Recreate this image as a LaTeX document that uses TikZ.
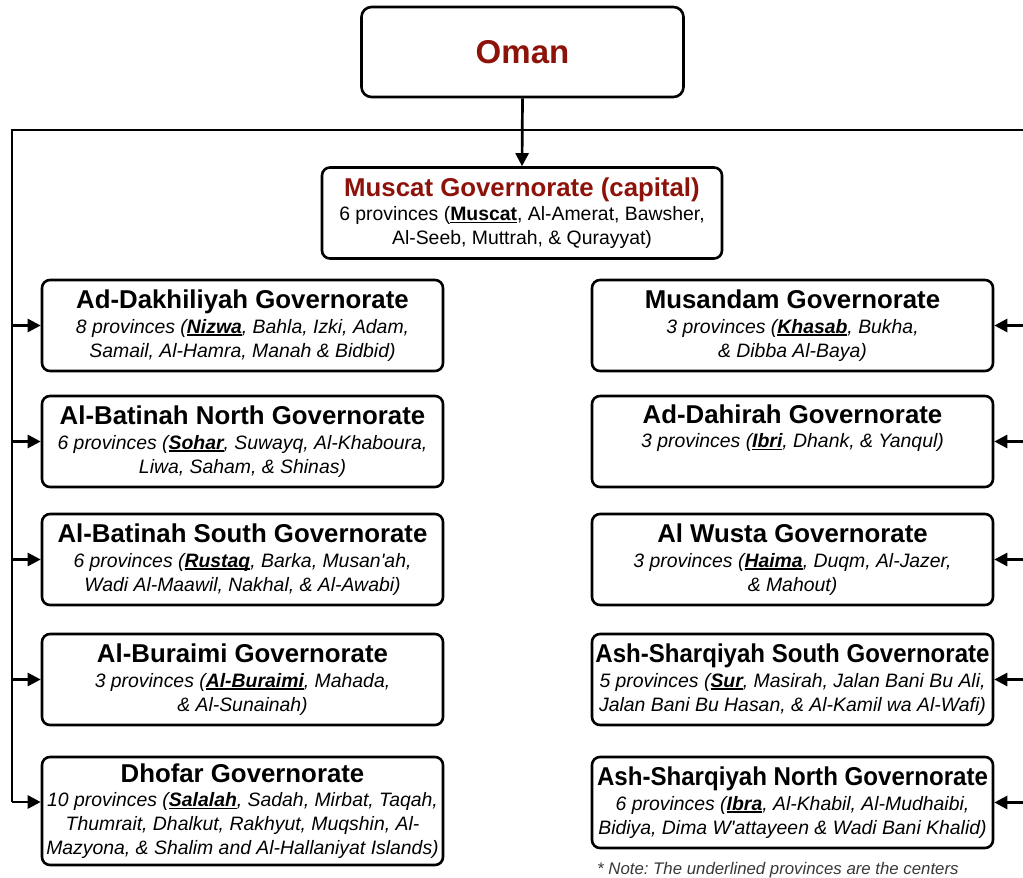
\documentclass[tikz,border=0pt]{standalone}
\usepackage{fontspec}
\setmainfont{Liberation Sans}
\usepackage{graphicx}
\usetikzlibrary{arrows.meta}

\definecolor{omanred}{RGB}{140,18,10}
\definecolor{notegray}{RGB}{55,55,55}

% capital of a governorate: bold with a firm underline
\newcommand\ctr[1]{{\setbox0=\hbox{\bfseries #1}\rlap{\rule[-2.6pt]{\wd0}{1.4pt}}\box0}}
% governorate heading line
\newcommand\govname[1]{{\fontsize{25.8}{26}\selectfont\bfseries\upshape #1}\\[0.5pt]}
% heading squeezed sideways to fit its box
\newcommand\squeezed[2]{\resizebox{#1}{\height}{#2}}

\begin{document}
\begin{tikzpicture}[x=1pt,y=-1pt,
  link/.style={line width=2.7pt},
  feed/.style={line width=2.7pt,-{Triangle[length=13pt,width=13pt]}},
  roundbox/.style={draw,line width=2.6pt,rounded corners=8pt,align=center,inner sep=0pt},
  govbox/.style={roundbox,minimum width=401pt,minimum height=91pt,
    font=\fontsize{19.4}{24}\selectfont\itshape},
]
\clip (0,0) rectangle (1023,878);

% country and capital
\node[roundbox,rounded corners=10pt,minimum width=322pt,minimum height=90pt,
  font=\fontsize{33}{36}\selectfont\bfseries,text=omanred] (oman) at (522.5,52) {Oman};
\node[roundbox,minimum width=400pt,minimum height=91pt,
  font=\fontsize{19.4}{24}\selectfont] (muscat) at (522,213)
  {{\fontsize{25.8}{26}\selectfont\bfseries\color{omanred}Muscat Governorate (capital)}\\[0.5pt]
   6 provinces (\ctr{Muscat}, Al-Amerat, Bawsher,\\Al-Seeb, Muttrah, \& Qurayyat)};

% governorates on the left
\node[govbox] (dakh) at (242.5,325.5)
  {\govname{Ad-Dakhiliyah Governorate}8 provinces (\ctr{Nizwa}, Bahla, Izki, Adam,\\Samail, Al-Hamra, Manah \& Bidbid)};
\node[govbox] (batn) at (242.5,441.5)
  {\govname{Al-Batinah North Governorate}6 provinces (\ctr{Sohar}, Suwayq, Al-Khaboura,\\Liwa, Saham, \& Shinas)};
\node[govbox] (bats) at (242.5,559.5)
  {\govname{Al-Batinah South Governorate}6 provinces (\ctr{Rustaq}, Barka, Musan\textquotesingle ah,\\Wadi Al-Maawil, Nakhal, \& Al-Awabi)};
\node[govbox] (bura) at (242.5,679.5)
  {\govname{Al-Buraimi Governorate}3 provinces (\ctr{Al-Buraimi}, Mahada,\\\& Al-Sunainah)};
\node[govbox,minimum height=108pt] (dhof) at (242.5,811)
  {\govname{Dhofar Governorate}10 provinces (\ctr{Salalah}, Sadah, Mirbat, Taqah,\\Thumrait, Dhalkut, Rakhyut, Muqshin, Al-\\Mazyona, \& Shalim and Al-Hallaniyat Islands)};

% governorates on the right
\node[govbox] (musa) at (792.5,325.5)
  {\govname{Musandam Governorate}3 provinces (\ctr{Khasab}, Bukha,\\\& Dibba Al-Baya)};
\node[govbox] (dahi) at (792.5,441.5)
  {\govname{Ad-Dahirah Governorate}3 provinces (\ctr{Ibri}, Dhank, \& Yanqul)\\\strut};
\node[govbox] (wust) at (792.5,559.5)
  {\govname{Al Wusta Governorate}3 provinces (\ctr{Haima}, Duqm, Al-Jazer,\\\& Mahout)};
\node[govbox] (shas) at (792.5,679.5)
  {\govname{\squeezed{394pt}{Ash-Sharqiyah South Governorate}}5 provinces (\ctr{Sur}, Masirah, Jalan Bani Bu Ali,\\Jalan Bani Bu Hasan, \& Al-Kamil wa Al-Wafi)};
\node[govbox] (shan) at (792.5,802.5)
  {\govname{\squeezed{391pt}{Ash-Sharqiyah North Governorate}}6 provinces (\ctr{Ibra}, Al-Khabil, Al-Mudhaibi,\\Bidiya, Dima W\textquotesingle attayeen \& Wadi Bani Khalid)};

% footnote
\node[anchor=base west,inner sep=0pt,text=notegray,
  font=\fontsize{16.8}{18}\selectfont\itshape] (note) at (597,874)
  {* Note:\ The underlined provinces are the centers};

% distribution trunk
\coordinate (ltop) at (12,130);
\coordinate (lbot) at (12,802);
\coordinate (rtop) at (1031,130);
\coordinate (rbot) at (1031,802);
\draw[link] (rbot) -- (rtop) -- (ltop) -- (lbot);

\draw[feed] (oman.south) -- (muscat.north);

\foreach \g in {dakh,batn,bats,bura}
  \draw[feed] (ltop |- \g.west) -- (\g.west);
\draw[feed] (lbot) -- (lbot -| dhof.west);

\foreach \g in {musa,dahi,wust,shas,shan}
  \draw[feed] (rtop |- \g.east) -- (\g.east);
\end{tikzpicture}
\end{document}
